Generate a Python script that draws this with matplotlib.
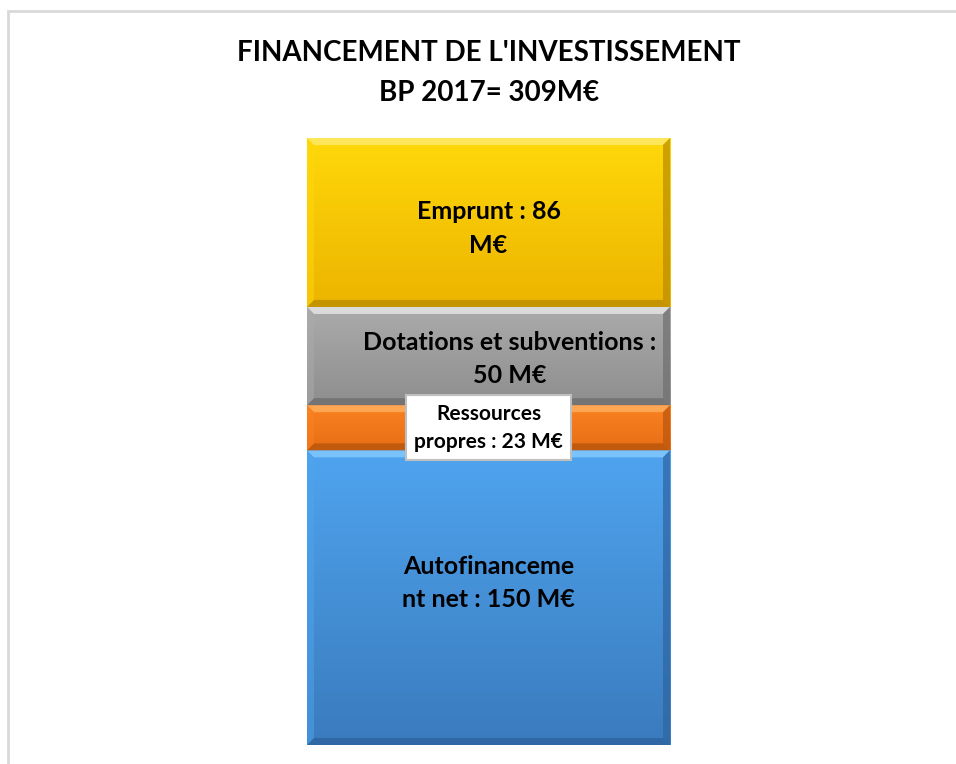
import numpy as np
import matplotlib.pyplot as plt
from matplotlib.colors import LinearSegmentedColormap
from matplotlib.patches import Polygon, Rectangle

plt.rcParams['font.family'] = ['Lato', 'DejaVu Sans']

# data (M€), bottom to top
categories = ["Autofinancement net", "Ressources propres", "Dotations et subventions", "Emprunt"]
values = [150, 23, 50, 86]
labels = ["Autofinanceme\nnt net : 150 M€", "Ressources\npropres : 23 M€",
          "Dotations et subventions :\n50 M€", "Emprunt : 86\nM€"]
title = "FINANCEMENT DE L'INVESTISSEMENT\nBP 2017= 309M€"

# (top colour, bottom colour, light bevel, dark bevel)
palette = [
    ("#4FA4EF", "#3A7BBD", "#86CBFF", "#2E64A0"),
    ("#FB8222", "#E86E14", "#FFB060", "#B9550C"),
    ("#ABABAB", "#8E8E8E", "#E8E8E8", "#6E6E6E"),
    ("#FFD80A", "#ECB400", "#FFEB70", "#B98C00"),
]
# label offsets (x in bar widths, y in M€) - the original labels are not centred
label_dx = [0, 0, 0.058, 0]
label_dy = [7.5, 0, -1.5, -3]

fig = plt.figure(figsize=(9.56, 7.64), dpi=100)
# light grey frame of the chart area
fig.add_artist(Rectangle((8 / 956, -0.05), 1.1, 1 - 11 / 764 + 0.05, transform=fig.transFigure,
                         fill=False, edgecolor="#D9D9D9", linewidth=2))

ax = fig.add_axes([307 / 956, 19 / 764, 363 / 956, 607 / 764])
ax.axis("off")

bottoms = np.concatenate([[0], np.cumsum(values)[:-1]])
bars = ax.bar(0, values, bottom=bottoms, width=1.0, color="none", edgecolor="none")

# bevel size, in data units (about 7 px)
bx = 7 / 363
by = 7 * sum(values) / 607

for rect, (c_top, c_bot, c_light, c_dark) in zip(bars, palette):
    x0, y0 = rect.get_x(), rect.get_y()
    w, h = rect.get_width(), rect.get_height()
    x1, y1 = x0 + w, y0 + h
    cmap = LinearSegmentedColormap.from_list("g", [c_bot, c_top])
    grad = np.linspace(0, 1, 256).reshape(-1, 1)
    ax.imshow(grad, extent=(x0, x1, y0, y1), origin="lower", cmap=cmap,
              aspect="auto", zorder=1)
    # bevel faces
    top = Polygon([(x0, y1), (x1, y1), (x1 - bx, y1 - by), (x0 + bx, y1 - by)],
                  facecolor=c_light, edgecolor="none", alpha=0.8, zorder=2)
    bot = Polygon([(x0, y0), (x1, y0), (x1 - bx, y0 + by), (x0 + bx, y0 + by)],
                  facecolor=c_dark, edgecolor="none", alpha=0.8, zorder=2)
    left = Polygon([(x0, y0), (x0, y1), (x0 + bx, y1 - by), (x0 + bx, y0 + by)],
                   facecolor=c_top, edgecolor="none", alpha=0.5, zorder=2)
    right = Polygon([(x1, y0), (x1, y1), (x1 - bx, y1 - by), (x1 - bx, y0 + by)],
                    facecolor=c_dark, edgecolor="none", alpha=0.7, zorder=2)
    for p in (top, bot, left, right):
        ax.add_patch(p)

ax.set_xlim(-0.5, 0.5)
ax.set_ylim(0, sum(values))

for i, (rect, lab) in enumerate(zip(bars, labels)):
    cx = rect.get_x() + rect.get_width() / 2 + label_dx[i]
    cy = rect.get_y() + rect.get_height() / 2 + label_dy[i]
    if categories[i] == "Ressources propres":
        ax.text(cx, cy, lab, ha="center", va="center", fontsize=15, fontweight="bold",
                linespacing=1.5, zorder=5,
                bbox=dict(boxstyle="square,pad=0.4", facecolor="white",
                          edgecolor="#BFBFBF", linewidth=1.5))
    else:
        ax.text(cx, cy, lab, ha="center", va="center", fontsize=18, fontweight="bold",
                linespacing=1.55, zorder=5, clip_on=False)

fig.text(489 / 956, 1 - 73 / 764, title, ha="center", va="center", fontsize=20,
         fontweight="bold", linespacing=1.7)

fig.savefig("out.png", dpi=100)
